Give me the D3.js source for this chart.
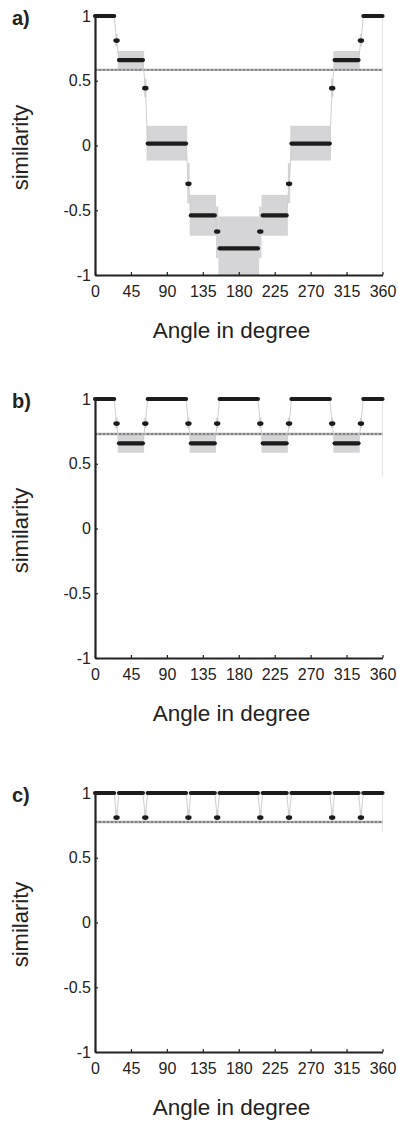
<!DOCTYPE html>
<html>
<head>
<meta charset="utf-8">
<script src="https://cdn.jsdelivr.net/npm/d3@7"></script>
<style>
body { margin: 0; background: #fff; }
text { font-family: "Liberation Sans", Arial, Helvetica, sans-serif; fill: #222; }
</style>
</head>
<body>
<div id="chart"></div>
<script>
// tick labels
const angleTicks = [0, 45, 90, 135, 180, 225, 270, 315, 360]
const simTicks = [-1, -0.5, 0, 0.5, 1]

// angles (deg) where the similarity stays flat, and the single samples between them
const plateauStart = [0, 30, 66, 120, 156, 210, 246, 300, 336]
const plateauEnd = [24, 60, 114, 150, 204, 240, 294, 330, 360]
const dotAngle = [27, 63, 117, 153, 207, 243, 297, 333]

// panel a
const plateauValueA = [1, 0.66, 0.015, -0.54, -0.795, -0.54, 0.015, 0.66, 1]
const plateauLowA = [1, 0.59, -0.116, -0.697, -1.05, -0.697, -0.116, 0.59, 1]
const plateauHighA = [1, 0.73, 0.152, -0.381, -0.548, -0.381, 0.152, 0.73, 1]
const dotValueA = [0.81, 0.443, -0.296, -0.664, -0.664, -0.296, 0.443, 0.81]
const dotLowA = [0.765, 0.376, -0.445, -0.87, -0.87, -0.445, 0.376, 0.765]
const dotHighA = [0.86, 0.515, -0.136, -0.471, -0.471, -0.136, 0.515, 0.86]
const thresholdA = 0.584

// panel b
const plateauValueB = [1, 0.658, 1, 0.658, 1, 0.658, 1, 0.658, 1]
const plateauLowB = [1, 0.585, 1, 0.585, 1, 0.585, 1, 0.585, 1]
const plateauHighB = [1, 0.73, 1, 0.73, 1, 0.73, 1, 0.73, 1]
const dotValueB = [0.81, 0.81, 0.81, 0.81, 0.81, 0.81, 0.81, 0.81]
const dotLowB = [0.776, 0.776, 0.776, 0.776, 0.776, 0.776, 0.776, 0.776]
const dotHighB = [0.855, 0.855, 0.855, 0.855, 0.855, 0.855, 0.855, 0.855]
const thresholdB = 0.73

// panel c
const plateauValueC = [1, 1, 1, 1, 1, 1, 1, 1, 1]
const dotValueC = [0.81, 0.81, 0.81, 0.81, 0.81, 0.81, 0.81, 0.81]
const dotLowC = [0.79, 0.79, 0.79, 0.79, 0.79, 0.79, 0.79, 0.79]
const dotHighC = [0.87, 0.87, 0.87, 0.87, 0.87, 0.87, 0.87, 0.87]
const thresholdC = 0.776

const panels = [
    { label: 'a)', top: 16, pv: plateauValueA, pl: plateauLowA, ph: plateauHighA,
      dv: dotValueA, dl: dotLowA, dh: dotHighA, thr: thresholdA, frameTo: -1 },
    { label: 'b)', top: 399, pv: plateauValueB, pl: plateauLowB, ph: plateauHighB,
      dv: dotValueB, dl: dotLowB, dh: dotHighB, thr: thresholdB, frameTo: 0.4 },
    { label: 'c)', top: 793, pv: plateauValueC, pl: plateauValueC, ph: plateauValueC,
      dv: dotValueC, dl: dotLowC, dh: dotHighC, thr: thresholdC, frameTo: 0.7 }
]

const width = 398, height = 1129
const left = 95, right = 382.5, plotH = 259
const halfStep = 1.5

const svg = d3.select('#chart')
    .append('svg')
    .attr('width', width)
    .attr('height', height)

const x = d3.scaleLinear().domain([0, 360]).range([left, right])

panels.forEach(function (p, i) {
    const y = d3.scaleLinear().domain([-1, 1]).range([p.top + plotH, p.top])
    const g = svg.append('g')

    svg.append('clipPath').attr('id', 'clip' + i)
        .append('rect')
        .attr('x', left).attr('y', p.top)
        .attr('width', right - left).attr('height', plotH)

    // faint box edge on the right
    g.append('line')
        .attr('x1', x(360)).attr('x2', x(360))
        .attr('y1', y(1)).attr('y2', y(p.frameTo))
        .attr('stroke', '#e6e6e6').attr('stroke-width', 1)

    // spread bands
    const bands = g.append('g').attr('clip-path', 'url(#clip' + i + ')')
    plateauStart.forEach(function (s, k) {
        if (p.ph[k] - p.pl[k] <= 0) return
        bands.append('rect')
            .attr('x', x(s - halfStep))
            .attr('width', x(plateauEnd[k] + halfStep) - x(s - halfStep))
            .attr('y', y(p.ph[k]))
            .attr('height', y(p.pl[k]) - y(p.ph[k]))
            .attr('fill', '#d5d5d7')
    })
    dotAngle.forEach(function (a, k) {
        bands.append('rect')
            .attr('x', x(a - halfStep))
            .attr('width', x(a + halfStep) - x(a - halfStep))
            .attr('y', y(p.dh[k]))
            .attr('height', y(p.dl[k]) - y(p.dh[k]))
            .attr('fill', '#d5d5d7')
    })

    // threshold
    g.append('line')
        .attr('x1', x(0)).attr('x2', x(360))
        .attr('y1', y(p.thr)).attr('y2', y(p.thr))
        .attr('stroke', '#adadad').attr('stroke-width', 2.4)
    g.append('line')
        .attr('x1', x(0)).attr('x2', x(360))
        .attr('y1', y(p.thr)).attr('y2', y(p.thr))
        .attr('stroke', '#707070').attr('stroke-width', 1.4)
        .attr('stroke-dasharray', '2,2')

    // thin line through all samples
    const pts = []
    plateauStart.forEach(function (s, k) {
        pts.push([s, p.pv[k]])
        pts.push([plateauEnd[k], p.pv[k]])
    })
    dotAngle.forEach(function (a, k) { pts.push([a, p.dv[k]]) })
    pts.sort((u, v) => u[0] - v[0])
    g.append('path')
        .attr('d', d3.line().x(d => x(d[0])).y(d => y(d[1]))(pts))
        .attr('fill', 'none')
        .attr('stroke', '#cfcfcf')
        .attr('stroke-width', 1)

    // plateaus
    g.selectAll('.bar')
        .data(plateauStart)
        .enter()
        .append('line')
        .attr('x1', d => x(d))
        .attr('x2', (d, k) => x(plateauEnd[k]))
        .attr('y1', (d, k) => y(p.pv[k]))
        .attr('y2', (d, k) => y(p.pv[k]))
        .attr('stroke', '#1c1c1c')
        .attr('stroke-width', 4.2)
        .attr('stroke-linecap', 'round')

    // single samples
    g.selectAll('.dot')
        .data(dotAngle)
        .enter()
        .append('ellipse')
        .attr('cx', d => x(d))
        .attr('cy', (d, k) => y(p.dv[k]))
        .attr('rx', 3.2)
        .attr('ry', 2.3)
        .attr('fill', '#1c1c1c')

    // axes
    const xAxis = g.append('g')
        .attr('transform', 'translate(0,' + (p.top + plotH) + ')')
        .call(d3.axisBottom(x).tickValues(angleTicks).tickSizeInner(-3).tickSizeOuter(0).tickPadding(11))
    const yAxis = g.append('g')
        .attr('transform', 'translate(' + left + ',0)')
        .call(d3.axisLeft(y).tickValues(simTicks).tickSizeInner(-3).tickSizeOuter(0).tickPadding(4)
            .tickFormat(d => String(d)))
    xAxis.select('.domain').attr('stroke', '#222').attr('stroke-width', 1.8)
    yAxis.select('.domain').attr('stroke', '#222').attr('stroke-width', 2.2)
    g.selectAll('.tick line').attr('stroke', '#222').attr('stroke-width', 1.2)
    g.selectAll('.tick text').attr('font-size', 16).attr('fill', '#222')
        .style('font-family', '"Liberation Sans", Arial, sans-serif')

    // labels
    g.append('text')
        .attr('x', 12).attr('y', p.top + 9)
        .attr('font-size', 20).attr('font-weight', 'bold')
        .text(p.label)
    g.append('text')
        .attr('transform', 'translate(28,' + (p.top + plotH / 2 + 2) + ') rotate(-90)')
        .attr('text-anchor', 'middle')
        .attr('font-size', 22)
        .text('similarity')
    g.append('text')
        .attr('x', 231.5).attr('y', p.top + plotH + 63)
        .attr('text-anchor', 'middle')
        .attr('font-size', 22.5)
        .text('Angle in degree')
})
</script>
</body>
</html>
